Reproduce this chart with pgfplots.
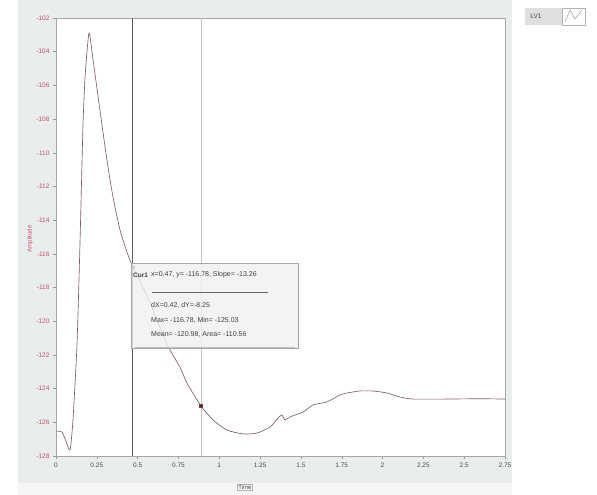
\documentclass[border=0pt]{standalone}
\usepackage{fontspec}
\setmainfont{Liberation Sans}
\usepackage{pgfplots}
\pgfplotsset{compat=1.18}
\definecolor{panel}{HTML}{E9EDED}
\definecolor{curve}{HTML}{7E5F66}
\definecolor{tickred}{HTML}{C8506A}
\definecolor{cursorA}{HTML}{606060}
\definecolor{cursorB}{HTML}{C4C4C4}
\definecolor{boxbg}{HTML}{F1F1F1}
\begin{document}
\begin{tikzpicture}[x=1pt,y=1pt]
\useasboundingbox (0,0) rectangle (597,495);
\fill[white] (0,0) rectangle (597,495);
\fill[panel] (18,0) rectangle (512,495);
\fill[white!92!gray] (18,0) rectangle (512,12);
\begin{axis}[
  at={(56pt,39pt)}, anchor=south west,
  scale only axis, width=449pt, height=438pt,
  xmin=0, xmax=2.75, ymin=-128, ymax=-102,
  axis background/.style={fill=white},
  axis line style={draw=gray!70},
  xtick={0,0.25,...,2.75},
  ytick={-128,-126,...,-102},
  tick align=outside, tick pos=left,
  major tick length=3pt,
  tick style={gray!80, line width=0.4pt},
  xticklabel style={font=\fontsize{6.5}{7}\selectfont, text=black!70},
  yticklabel style={font=\fontsize{6.5}{7}\selectfont, text=tickred},
  /pgf/number format/assume math mode=true,
  clip=true,
]
% cursor lines
\addplot[cursorB, line width=0.6pt] coordinates {(0.888,-128) (0.888,-102)};
\addplot[cursorA, line width=0.9pt] coordinates {(0.47,-128) (0.47,-102)};
% signal
\addplot[curve, line width=0.65pt, smooth, tension=0.35] coordinates {
(0,-126.52) (0.037,-126.58) (0.060,-127.1) (0.086,-127.64) (0.104,-125.86)
(0.129,-121.29) (0.147,-115.36) (0.165,-108.47) (0.178,-105.50) (0.202,-102.89)
(0.227,-104.49) (0.269,-107.46) (0.312,-110.43) (0.349,-112.63) (0.392,-114.58)
(0.435,-115.90) (0.470,-116.78) (0.514,-117.60) (0.576,-118.90) (0.637,-120.4)
(0.698,-121.7) (0.759,-122.72) (0.802,-123.67) (0.888,-125.03) (0.962,-125.86)
(1.047,-126.46) (1.145,-126.69) (1.231,-126.64) (1.311,-126.28) (1.360,-125.74)
(1.384,-125.57) (1.403,-125.86) (1.433,-125.68) (1.513,-125.39) (1.574,-124.97)
(1.660,-124.79) (1.739,-124.38) (1.782,-124.26) (1.862,-124.14) (1.942,-124.14)
(2.027,-124.26) (2.107,-124.50) (2.187,-124.62) (2.395,-124.62) (2.597,-124.60)
(2.75,-124.62)
};
% cursor markers
\addplot[only marks, mark=square*, mark size=1.4pt, draw=black!70, fill=red!60!black] coordinates {(0.888,-125.03)};
\addplot[only marks, mark=square*, mark size=1.2pt, draw=black!70, fill=red!60!black] coordinates {(0.47,-116.78)};
\end{axis}
% axis labels
\node[rotate=90, font=\fontsize{6}{7}\selectfont, text=tickred] at (30,256) {Amplitude};
\node[font=\fontsize{6}{7}\selectfont, text=black!70, draw=gray!60, inner sep=1pt] at (245,8) {Time};
% cursor box
\draw[gray!70, fill=boxbg, fill opacity=0.8] (131,147) rectangle (298,232);
\node[anchor=west, font=\fontsize{6.5}{7}\selectfont\bfseries, text=black!75, inner sep=1pt] at (132,220) {Cur1};
\node[anchor=west, font=\fontsize{7}{8}\selectfont, text=black!75, inner sep=1pt] at (150,220) {x=0.47, y= -116.78, Slope= -13.26};
\draw[black!60, line width=0.5pt] (152,203) -- (268,203);
\node[anchor=west, font=\fontsize{7}{8}\selectfont, text=black!75, inner sep=1pt] at (150,190) {dX=0.42, dY=-8.25};
\node[anchor=west, font=\fontsize{7}{8}\selectfont, text=black!75, inner sep=1pt] at (150,175) {Max= -116.78, Min= -125.03};
\node[anchor=west, font=\fontsize{7}{8}\selectfont, text=black!75, inner sep=1pt] at (150,160) {Mean= -120.98, Area= -110.56};
\draw[gray!50] (135,148) -- (295,148);
% legend
\fill[gray!25] (525,470) rectangle (562,487);
\node[font=\fontsize{6.5}{7}\selectfont, text=black!75] at (536,478.5) {LV1};
\draw[gray!60, fill=white] (562,470) rectangle (585,487);
\draw[gray!80, line width=0.5pt] (565,473) -- (570,485) -- (575,476) -- (582,485);
\end{tikzpicture}
\end{document}
